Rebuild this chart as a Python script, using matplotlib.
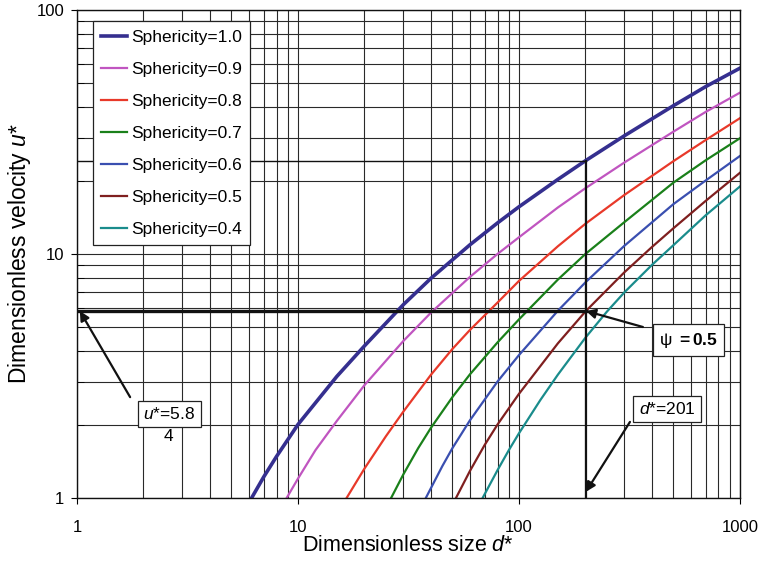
import matplotlib
matplotlib.use('Agg')
import matplotlib.pyplot as plt
import matplotlib.ticker as ticker

plt.rcParams['font.family'] = ['Liberation Sans', 'DejaVu Sans']
plt.rcParams['mathtext.fontset'] = 'custom'
plt.rcParams['mathtext.rm'] = 'Liberation Sans'
plt.rcParams['mathtext.it'] = 'Liberation Sans:italic'
plt.rcParams['mathtext.bf'] = 'Liberation Sans:bold'

# Curves (d* -> u*) for each sphericity
labels = ['Sphericity=1.0', 'Sphericity=0.9', 'Sphericity=0.8', 'Sphericity=0.7',
          'Sphericity=0.6', 'Sphericity=0.5', 'Sphericity=0.4']
colors = ['#352f8f', '#c055c0', '#e8392a', '#1a801a', '#3a4fb0', '#7f1f1f', '#1a8c8c']
widths = [2.6, 1.6, 1.6, 1.6, 1.6, 1.6, 1.6]

d_10 = [6.17, 7, 8, 10, 15, 20, 30, 40, 60, 80, 100, 150, 200, 300, 500, 700, 1000]
u_10 = [1.0, 1.22, 1.48, 2.0, 3.15, 4.2, 6.2, 7.95, 10.9, 13.4, 15.6, 20.2, 24.1, 30.5, 40.5, 48.5, 57.7]
d_09 = [8.89, 10, 12, 15, 20, 30, 40, 60, 80, 100, 150, 200, 300, 500, 700, 1000]
u_09 = [1.0, 1.2, 1.57, 2.07, 2.9, 4.4, 5.75, 8.05, 10.0, 11.7, 15.5, 18.6, 23.7, 31.7, 38.2, 45.8]
d_08 = [16.6, 20, 25, 30, 40, 50, 60, 80, 100, 150, 200, 300, 500, 700, 1000]
u_08 = [1.0, 1.32, 1.79, 2.26, 3.2, 4.08, 4.88, 6.32, 7.75, 10.75, 13.3, 17.45, 24.0, 29.3, 36.0]
d_07 = [26.4, 30, 35, 40, 50, 60, 80, 100, 150, 200, 300, 500, 700, 1000]
u_07 = [1.0, 1.25, 1.6, 1.94, 2.59, 3.21, 4.34, 5.39, 7.85, 10.0, 13.5, 19.6, 24.2, 29.8]
d_06 = [37.9, 45, 50, 60, 80, 100, 150, 200, 300, 500, 700, 1000]
u_06 = [1.0, 1.35, 1.6, 2.08, 3.0, 3.85, 5.85, 7.65, 10.8, 16.0, 20.0, 25.2]
d_05 = [51.9, 60, 70, 80, 100, 150, 201, 300, 400, 500, 700, 1000]
u_05 = [1.0, 1.29, 1.65, 2.0, 2.67, 4.3, 5.84, 8.41, 10.68, 12.74, 16.5, 21.5]
d_04 = [68.5, 80, 90, 100, 125, 150, 200, 250, 300, 400, 500, 700, 1000]
u_04 = [1.0, 1.30, 1.57, 1.84, 2.52, 3.2, 4.54, 5.8, 6.96, 9.02, 10.86, 14.4, 18.9]

curves_d = [d_10, d_09, d_08, d_07, d_06, d_05, d_04]
curves_u = [u_10, u_09, u_08, u_07, u_06, u_05, u_04]

# worked example: psi = 0.5
d_star = 201
u_star = 5.84
u_top = 24.0

xticks = [1, 10, 100, 1000]
yticks = [1, 10, 100]

fig = plt.figure(figsize=(7.62, 5.61), dpi=100)
ax = fig.add_axes([0.101, 0.1123, 0.870, 0.870])
ax.set_xscale('log')
ax.set_yscale('log')
ax.set_xlim(1, 1000)
ax.set_ylim(1, 100)

ax.grid(True, which='both', color='#2a2a2a', linewidth=0.8)
ax.set_axisbelow(True)

for d, u, lab, c, w in zip(curves_d, curves_u, labels, colors, widths):
    ax.plot(d, u, color=c, linewidth=w, label=lab, solid_joinstyle='round')

# guide lines
ax.plot([1, d_star], [u_star, u_star], color='#111111', linewidth=2.4)
ax.plot([1, d_star], [u_top, u_top], color='#111111', linewidth=1.0)
ax.plot([d_star, d_star], [1, u_top], color='#111111', linewidth=1.6)

arrow = dict(arrowstyle='-|>', color='#111111', lw=1.6, mutation_scale=14,
             shrinkA=0, shrinkB=0)
box = dict(boxstyle='square,pad=0.3', facecolor='white', edgecolor='#222222', linewidth=0.9)

ax.annotate('', xy=(1.03, u_star), xytext=(1.74, 2.59), arrowprops=arrow)
ax.text(2.62, 2.21, '$u$*=5.8', fontsize=12.5, ha='center', va='center', bbox=box)
ax.text(2.60, 1.78, '4', fontsize=12.5, ha='center', va='center')

ax.annotate('', xy=(d_star, u_star), xytext=(364, 5.02), arrowprops=arrow)
ax.text(588, 4.44, r'$\mathrm{\psi}$ $\mathbf{=0.5}$', fontsize=12.5, ha='center', va='center',
        bbox=dict(boxstyle='square,pad=0.35', facecolor='white', edgecolor='#222222', linewidth=0.9))

ax.annotate('', xy=(d_star, 1.06), xytext=(318, 2.05), arrowprops=arrow)
ax.text(468, 2.31, '$d$*=201', fontsize=12.5, ha='center', va='center', bbox=box)

ax.set_xticks(xticks)
ax.set_xticklabels([str(t) for t in xticks])
ax.set_yticks(yticks)
ax.set_yticklabels([str(t) for t in yticks])
ax.xaxis.set_minor_formatter(ticker.NullFormatter())
ax.yaxis.set_minor_formatter(ticker.NullFormatter())
ax.tick_params(axis='x', which='major', direction='out', length=4, pad=12, labelsize=12)
ax.tick_params(axis='y', which='major', direction='out', length=4, pad=5, labelsize=12)
ax.tick_params(axis='x', which='minor', length=0)
ax.tick_params(axis='y', which='minor', direction='in', length=5)

ax.set_xlabel('Dimensionless size $d$*', fontsize=15.5, labelpad=0)
ax.set_ylabel('Dimensionless velocity $u$*', fontsize=16.5, labelpad=3)

for s in ax.spines.values():
    s.set_color('#111111')
    s.set_linewidth(1.0)

leg = ax.legend(loc='upper left', bbox_to_anchor=(0.0237, 0.9775), borderaxespad=0,
                fontsize=12.5, labelspacing=0.97, handlelength=1.5, handletextpad=0.2,
                fancybox=False, framealpha=1, edgecolor='#222222', borderpad=0.5)
leg.get_frame().set_linewidth(0.9)

fig.savefig('out.png', dpi=100)
